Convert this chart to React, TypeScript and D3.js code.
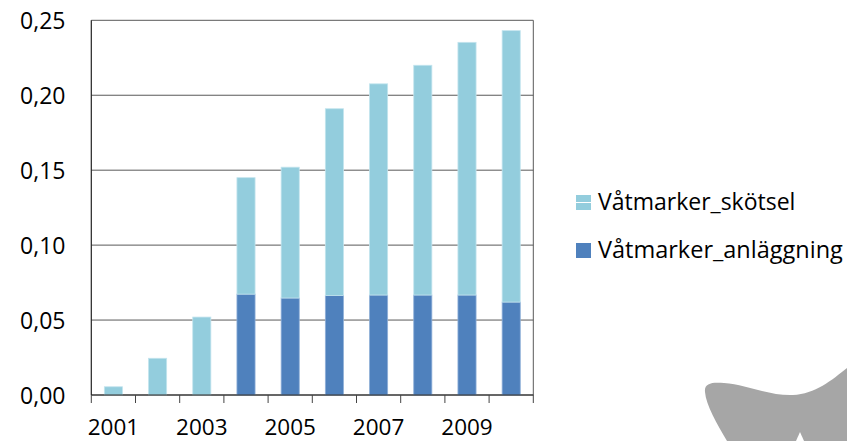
import React from "react";
import * as d3 from "d3";

const years = ["2001", "2002", "2003", "2004", "2005", "2006", "2007", "2008", "2009", "2010"];
const anlaggning = [0, 0, 0, 0.0673, 0.0647, 0.0664, 0.0667, 0.0667, 0.0667, 0.062];
const skotsel = [0.0055, 0.0245, 0.052, 0.0777, 0.0873, 0.1246, 0.1409, 0.1533, 0.1686, 0.1811];
const xTickLabels = ["2001", "2003", "2005", "2007", "2009"];
const yTicks = [0, 0.05, 0.1, 0.15, 0.2, 0.25];
const seriesNames = ["Våtmarker_skötsel", "Våtmarker_anläggning"];

const W = 847, H = 441;
const left = 91.3, right = 533.3, top = 20.3, bottom = 395;
const FONT = "'Open Sans', sans-serif";
const FS = 23;
const C_SK = "#93CDDD";
const C_AN = "#4F81BD";

export default function App() {
  const x = d3.scaleBand<string>().domain(years).range([left, right]).paddingInner(0.59).paddingOuter(0.295);
  const y = d3.scaleLinear().domain([0, 0.25]).range([bottom, top]);
  const locale = d3.formatLocale({ decimal: ",", thousands: " ", grouping: [3], currency: ["", " kr"] });
  const fmt = locale.format(".2f");
  const step = (right - left) / years.length;
  const tickPositions = d3.range(years.length + 1).map((i) => left + i * step);
  const stack = d3.stack<number>().keys(["an", "sk"]).value((i, k) => (k === "an" ? anlaggning[i] : skotsel[i]));
  const stacked = stack(d3.range(years.length));

  return (
    <svg width={W} height={H} style={{ position: "absolute", left: 0, top: 0, display: "block", background: "#fff" }}>
      {yTicks.map((t) => (
        <line key={t} x1={left} x2={right} y1={y(t)} y2={y(t)} stroke="#595959" strokeWidth={1} />
      ))}
      <line x1={right} x2={right} y1={top} y2={bottom} stroke="#595959" strokeWidth={1} />
      {stacked.map((layer, li) =>
        layer.map((d, i) => {
          const h = y(d[0]) - y(d[1]);
          if (h <= 0) return null;
          return (
            <rect
              key={li + "-" + i}
              x={x(years[i])}
              y={y(d[1])}
              width={x.bandwidth()}
              height={h}
              fill={li === 0 ? C_AN : C_SK}
              stroke={li === 0 ? "#8fb0d8" : "#c3e4ee"}
              strokeWidth={0.8}
            />
          );
        })
      )}
      <line x1={left} x2={left} y1={top} y2={bottom} stroke="#222" strokeWidth={1.2} />
      <line x1={left} x2={right} y1={bottom} y2={bottom} stroke="#222" strokeWidth={1.2} />
      {tickPositions.map((p, i) => (
        <line key={i} x1={p} x2={p} y1={bottom} y2={bottom + 8} stroke="#444" strokeWidth={1} />
      ))}
      {yTicks.map((t) => (
        <text key={t} x={65.5} y={y(t) + 8.5} textAnchor="end" fontFamily={FONT} fontSize={FS} fill="#000">
          {fmt(t)}
        </text>
      ))}
      {xTickLabels.map((l) => (
        <text key={l} x={(x(l) as number) + x.bandwidth() / 2} y={434.5} textAnchor="middle" fontFamily={FONT} fontSize={22.5} fill="#000">
          {l}
        </text>
      ))}
      <rect x={576} y={195} width={15} height={15} fill={C_SK} />
      <line x1={576} x2={591} y1={202.5} y2={202.5} stroke="#fff" strokeWidth={1} />
      <text x={598} y={210} fontFamily={FONT} fontSize={FS} fill="#000">{seriesNames[0]}</text>
      <rect x={576} y={243} width={15} height={15} fill={C_AN} />
      <text x={598} y={258} fontFamily={FONT} fontSize={FS + 0.5} fill="#000">{seriesNames[1]}</text>
      <path
        d="M705,392 C704,383 712,382 724,383 C748,385 770,396 793,395 C815,394 832,380 847,368 L847,441 L727,441 C717,424 706,405 705,392 Z"
        fill="#A6A6A6"
      />
      <path d="M796,441 L800,432 L804,441 Z" fill="#fff" />
    </svg>
  );
}
